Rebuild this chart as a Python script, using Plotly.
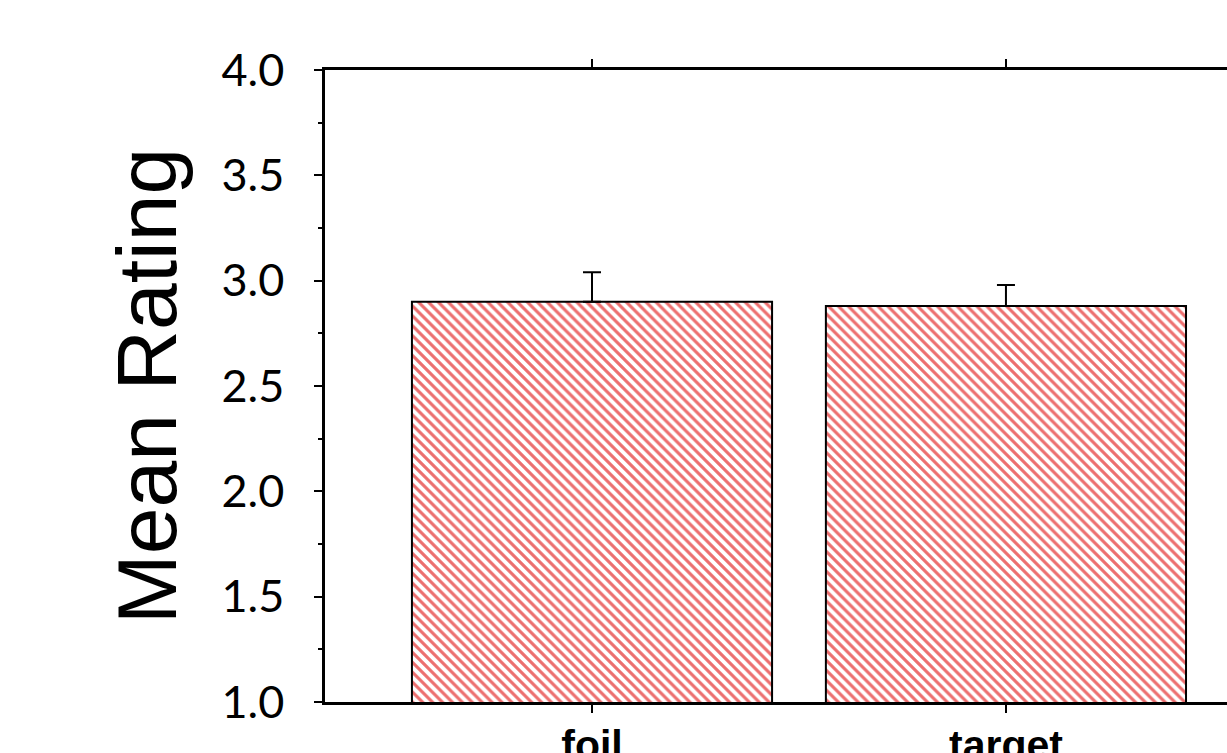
import plotly.graph_objects as go

# Condition means with their upper error (SEM)
conditions = ["foil", "target"]
mean_rating = [2.90, 2.88]
sem_upper = [0.14, 0.10]

# Y axis tick labels
y_tickvals = [1.0, 1.5, 2.0, 2.5, 3.0, 3.5, 4.0]
y_ticktext = ["1.0", "1.5", "2.0", "2.5", "3.0", "3.5", "4.0"]

fig = go.Figure()
fig.add_trace(go.Bar(
    x=conditions,
    y=mean_rating,
    base=0,
    width=0.87,
    marker=dict(
        color="white",
        line=dict(color="black", width=2),
        pattern=dict(shape="\\", fgcolor="#e84a4a", bgcolor="white",
                     size=7, solidity=0.45, fgopacity=0.8),
    ),
    error_y=dict(type="data", array=sem_upper, arrayminus=[0, 0],
                 symmetric=False, color="black", thickness=2, width=9),
    showlegend=False,
))

fig.update_layout(
    width=1227, height=753,
    margin=dict(l=325, r=0, t=70, b=51, autoexpand=False),
    paper_bgcolor="white", plot_bgcolor="white",
    bargap=0.13,
)

fig.update_xaxes(
    range=[-0.645, 1.534],
    showline=True, linecolor="black", linewidth=2.5,
    mirror="ticks",
    ticks="outside", ticklen=8, tickwidth=2, tickcolor="black",
    tickfont=dict(family="Liberation Sans", size=41, color="black", weight="bold"),
    ticklabelstandoff=-3,
    showgrid=False, zeroline=False, automargin=False,
)

fig.update_yaxes(
    range=[1.0, 4.0],
    tickvals=y_tickvals, ticktext=y_ticktext,
    showline=True, linecolor="black", linewidth=2.5,
    ticks="outside", ticklen=8, tickwidth=2, tickcolor="black",
    minor=dict(dtick=0.25, ticks="outside", ticklen=4, tickwidth=2, tickcolor="black"),
    tickfont=dict(family="Lato", size=45, color="black"),
    ticklabelstandoff=21,
    title=dict(text="Mean Rating", font=dict(family="Liberation Sans", size=84, color="black"),
               standoff=18),
    showgrid=False, zeroline=False, automargin=False,
)

fig.write_html("out.html")
